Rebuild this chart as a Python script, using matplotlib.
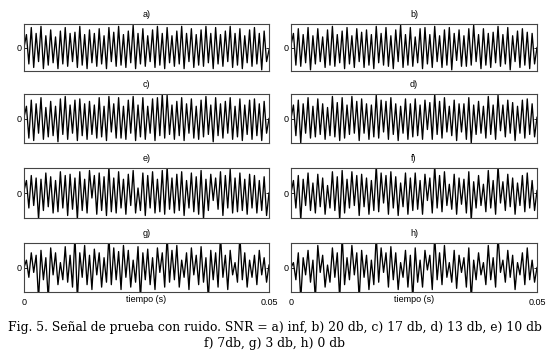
import numpy as np
import matplotlib
matplotlib.use("Agg")
import matplotlib.pyplot as plt

titles = ["a)", "b)", "c)", "d)", "e)", "f)", "g)", "h)"]
x_tick_labels = ["0", "0.05"]
x_label = "tiempo (s)"
caption1 = "Fig. 5. Señal de prueba con ruido. SNR = a) inf, b) 20 db, c) 17 db, d) 13 db, e) 10 db"
caption2 = "f) 7db, g) 3 db, h) 0 db"
t_end = 0.05

# alternating extremes (peak, trough, ...)
sig_a = [0.0,
    0.55,-0.7, 0.85,-0.85, 0.6,-0.6, 0.9,-0.9, 0.5,-0.75,
    0.75,-0.65, 0.45,-0.9, 0.7,-0.7, 0.85,-0.8, 0.6,-0.6,
    0.65,-0.85, 0.9,-0.75, 0.55,-0.9, 0.75,-0.65, 0.6,-0.8,
    0.8,-0.7, 0.5,-0.9, 0.85,-0.6, 0.65,-0.8, 0.9,-0.75,
    0.55,-0.85, 0.7,-0.65, 0.95,-0.9, 0.6,-0.7, 0.8,-0.8,
    0.5,-0.6, 0.75,-0.85, 0.9,-0.75, 0.6,-0.9, 0.85,-0.65,
    0.5,-0.8, 0.7,-0.7, 0.9,-0.9, 0.6,-0.6, 0.8,-0.85,
    0.55,-0.75, 0.75,-0.8, 0.9,-0.65, 0.6,-0.9, 0.85,-0.7,
    0.55,-0.8, 0.7,-0.6, 0.9,-0.85, 0.6,-0.75, 0.8,-0.9,
    0.5,-0.65, 0.75,-0.8, 0.85,-0.7, 0.6,-0.95, 0.7,-0.6,
    -0.1]
sig_b = [0.1,
    0.6,-0.75, 0.8,-0.8, 0.55,-0.65, 0.85,-0.95, 0.5,-0.7,
    0.8,-0.6, 0.45,-0.85, 0.75,-0.75, 0.9,-0.8, 0.55,-0.65,
    0.7,-0.9, 0.85,-0.7, 0.5,-0.85, 0.8,-0.6, 0.65,-0.85,
    0.75,-0.75, 0.55,-0.9, 0.9,-0.65, 0.6,-0.75, 0.85,-0.8,
    0.5,-0.9, 0.75,-0.6, 0.95,-0.85, 0.55,-0.75, 0.85,-0.8,
    0.45,-0.65, 0.8,-0.9, 0.85,-0.7, 0.55,-0.85, 0.9,-0.6,
    0.5,-0.85, 0.75,-0.75, 0.85,-0.95, 0.6,-0.55, 0.75,-0.8,
    0.5,-0.8, 0.8,-0.75, 0.95,-0.6, 0.55,-0.9, 0.8,-0.75,
    0.6,-0.85, 0.65,-0.65, 0.9,-0.8, 0.55,-0.7, 0.85,-0.95,
    0.5,-0.6, 0.7,-0.85, 0.8,-0.75, 0.65,-0.9, 0.6,-0.7,
    0.0]
sig_c = [0.05,
    0.5,-0.8, 0.75,-0.9, 0.6,-0.6, 0.85,-0.85, 0.45,-0.75,
    0.7,-0.7, 0.5,-0.95, 0.8,-0.65, 0.9,-0.85, 0.55,-0.6,
    0.75,-0.9, 0.8,-0.7, 0.6,-0.85, 0.7,-0.65, 0.55,-0.8,
    0.85,-0.75, 0.5,-0.9, 0.9,-0.55, 0.6,-0.8, 0.85,-0.8,
    0.5,-0.85, 0.75,-0.6, 0.9,-0.9, 0.55,-0.75, 0.85,-0.85,
    0.5,-0.6, 0.8,-0.9, 0.85,-0.7, 1.0,-0.8, 0.95,-0.65,
    0.55,-0.85, 0.7,-0.7, 0.85,-0.9, 0.6,-0.6, 0.8,-0.8,
    0.5,-0.85, 0.75,-0.75, 0.9,-0.65, 0.55,-0.95, 0.85,-0.7,
    0.6,-0.8, 0.7,-0.6, 0.85,-0.85, 0.5,-0.75, 0.8,-0.9,
    0.55,-0.65, 0.75,-0.85, 0.8,-0.7, 0.6,-0.9, 0.7,-0.6,
    0.0]
sig_d = [0.0,
    0.55,-0.7, 0.75,-1.0, 0.6,-0.6, 0.85,-0.8, 0.5,-0.75,
    0.8,-0.65, 0.6,-0.85, 0.45,-0.7, 0.9,-0.75, 0.65,-0.9,
    0.85,-0.8, 0.55,-0.65, 0.9,-0.6, 0.7,-0.9, 0.8,-0.6,
    0.6,-0.85, 0.55,-0.75, 0.95,-0.8, 0.75,-0.55, 0.7,-0.85,
    0.85,-0.65, 0.6,-0.9, 0.5,-0.6, 0.8,-0.85, 0.6,-0.75,
    0.8,-0.7, 0.55,-0.85, 0.75,-0.45, 0.65,-0.85, 1.0,-0.65,
    0.7,-0.8, 0.85,-0.55, 0.5,-0.7, 0.75,-0.9, 0.6,-0.55,
    0.6,-0.85, 0.85,-1.0, 0.55,-0.65, 0.7,-0.6, 0.5,-0.8,
    0.9,-0.65, 0.55,-0.85, 0.95,-0.5, 0.55,-0.75, 0.75,-0.6,
    0.65,-0.9, 0.5,-0.6, 0.75,-0.8, 0.8,-0.65, 0.6,-0.75,
    0.05]
sig_e = [0.1,
    0.5,-0.6, 0.7,-0.5, 0.6,-1.05, 0.55,-0.7, 0.8,-0.55,
    0.65,-0.8, 0.5,-0.75, 0.85,-0.6, 0.7,-0.9, 0.75,-0.65,
    0.6,-1.05, 0.85,-0.7, 0.55,-0.8, 0.9,-0.2, 0.7,-0.85,
    0.8,-0.7, 0.65,-0.9, 1.05,-0.75, 0.6,-0.8, 0.85,-0.6,
    0.55,-0.85, 0.75,-0.5, 0.9,-0.8, 0.2,-0.7, 0.8,-0.9,
    0.7,-0.6, 0.85,-0.8, 0.55,-0.75, 0.9,-0.85, 1.05,-0.65,
    0.6,-0.8, 0.75,-0.7, 0.85,-0.9, 0.5,-0.6, 0.8,-0.75,
    0.65,-0.85, 0.9,-1.05, 0.55,-0.7, 0.75,-0.3, 0.6,-0.65,
    0.85,-0.9, 0.7,-0.6, 0.95,-0.8, 0.6,-0.75, 0.8,-0.7,
    0.55,-0.85, 0.75,-0.6, 0.7,-0.8, 0.5,-0.7, 0.65,-0.9,
    0.0]
sig_f = [0.0,
    0.5,-0.6, 0.7,-1.1, 0.55,-0.5, 0.8,-0.7, 0.4,-0.8,
    0.75,-0.55, 0.6,-0.85, 0.3,-0.6, 0.85,-0.7, 0.65,-1.1,
    0.9,-0.8, 0.55,-0.6, 0.85,-0.5, 0.7,-0.9, 0.75,-0.55,
    0.6,-0.85, 0.5,-0.7, 1.1,-0.75, 0.8,-0.4, 0.7,-0.85,
    0.85,-0.6, 0.65,-0.9, 0.4,-0.55, 0.8,-0.85, 0.6,-0.7,
    0.8,-0.65, 0.5,-0.85, 0.75,-0.3, 0.6,-0.8, 1.1,-0.6,
    0.7,-0.75, 0.85,-0.5, 0.35,-0.65, 0.75,-0.85, 0.6,-0.45,
    0.55,-0.8, 0.85,-1.1, 0.45,-0.6, 0.7,-0.5, 0.35,-0.75,
    0.9,-0.6, 0.5,-0.85, 1.1,-0.4, 0.45,-0.7, 0.75,-0.55,
    0.6,-0.85, 0.4,-0.5, 0.7,-0.75, 0.8,-0.6, 0.5,-0.7,
    0.1]
sig_g = [0.0,
    0.3,-0.4, 0.6,-0.2, 0.5,-1.3, 0.7,-0.5, 0.4,-1.3,
    0.8,-0.3, 0.6,-0.7, 0.2,-0.5, 0.85,-0.6, 0.5,-0.8,
    1.3,-1.3, 0.6,-0.4, 0.9,-0.7, 0.5,-0.9, 0.75,-0.3,
    0.6,-0.8, 0.4,-0.6, 1.3,-0.7, 0.8,-0.5, 0.65,-0.9,
    0.9,-0.4, 0.7,-0.8, 0.3,-0.6, 0.85,-1.3, 0.6,-0.5,
    0.75,-0.7, 0.4,-0.9, 0.8,-0.2, 0.6,-0.8, 1.3,-0.6,
    0.7,-0.5, 0.9,-0.8, 0.3,-0.4, 0.6,-0.9, 0.8,-0.3,
    0.5,-0.7, 0.85,-0.6, 0.4,-1.3, 0.7,-0.5, 0.6,-0.8,
    1.3,-0.4, 0.5,-0.9, 0.7,-0.3, 0.2,-0.6, 1.3,-0.5,
    0.6,-0.8, 0.3,-0.4, 0.5,-0.7, 0.7,-0.3, 0.4,-0.6,
    0.1]
sig_h = [0.0,
    0.2,-0.5, 0.6,-1.3, 0.4,-0.3, 0.7,-0.6, 0.3,-1.3,
    0.9,-0.2, 0.5,-0.8, 0.1,-0.6, 0.8,-0.4, 0.6,-1.3,
    1.3,-0.7, 0.4,-0.5, 0.9,-0.3, 0.6,-1.3, 0.7,-0.4,
    0.5,-0.9, 0.3,-0.7, 1.3,-0.6, 0.8,-0.2, 0.6,-0.8,
    0.85,-0.5, 0.6,-0.9, 0.2,-0.4, 0.7,-0.8, 0.5,-1.3,
    0.8,-0.6, 0.3,-0.8, 0.7,-0.1, 0.5,-0.9, 1.3,-0.5,
    0.6,-0.7, 0.9,-0.4, 0.2,-0.6, 0.7,-0.85, 0.5,-0.2,
    0.4,-0.8, 0.8,-1.3, 0.3,-0.5, 0.6,-0.3, 0.2,-0.7,
    0.9,-0.5, 0.4,-0.8, 1.3,-0.2, 0.3,-0.6, 0.7,-0.4,
    0.5,-0.9, 0.2,-0.3, 0.6,-0.7, 0.8,-0.5, 0.3,-0.6,
    0.0]
signals = [sig_a, sig_b, sig_c, sig_d, sig_e, sig_f, sig_g, sig_h]

W, H = 550, 356
fig = plt.figure(figsize=(W / 100, H / 100), dpi=100)
plt.rcParams['font.family'] = ['Liberation Sans', 'DejaVu Sans']

cols = [(24, 269), (291, 537)]
rows = [(24, 71), (94, 143), (168, 218), (243, 292)]

for i, (sig, ttl) in enumerate(zip(signals, titles)):
    r, c = divmod(i, 2)
    x0, x1 = cols[c]
    y0, y1 = rows[r]
    ax = fig.add_axes([x0 / W, 1 - y1 / H, (x1 - x0) / W, (y1 - y0) / H])
    t = np.linspace(0, t_end, len(sig))
    ax.plot(t, sig, color='black', lw=0.95)
    ax.set_xlim(0, t_end)
    ax.set_ylim(-1.0, 1.0)
    ax.set_yticks([0])
    ax.set_yticklabels(["0"], fontsize=6.5)
    ax.set_xticks([0, t_end])
    ax.tick_params(direction='in', length=2.5, width=0.6, right=True, top=True, pad=2)
    if r == 3:
        ax.set_xticklabels(x_tick_labels, fontsize=6.5)
        ax.tick_params(axis='x', pad=4)
        ax.set_xlabel(x_label, fontsize=6.5)
        ax.xaxis.set_label_coords(0.5, -0.07)
        ax.xaxis.label.set_va('top')
    else:
        ax.set_xticklabels([])
    ax.set_title(ttl, fontsize=6.5, pad=5)
    for s in ax.spines.values():
        s.set_linewidth(0.8)
        s.set_color('#444444')

fig.text(0.5, 1 - 327 / H, caption1, ha='center', va='center', fontsize=8.95,
         family='DejaVu Serif')
fig.text(0.5, 1 - 344 / H, caption2, ha='center', va='center', fontsize=8.95,
         family='DejaVu Serif')

fig.savefig('out.png', dpi=100, facecolor='white')
